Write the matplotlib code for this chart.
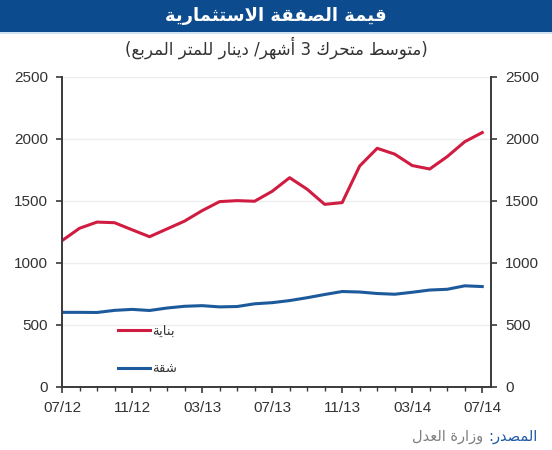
import numpy as np
import matplotlib
matplotlib.use("Agg")
import matplotlib.pyplot as plt
from matplotlib.patches import Rectangle

# Data (3-month moving average, dinar per square metre)
months = ["07/12", "08/12", "09/12", "10/12", "11/12", "12/12", "01/13", "02/13",
          "03/13", "04/13", "05/13", "06/13", "07/13", "08/13", "09/13", "10/13",
          "11/13", "12/13", "01/14", "02/14", "03/14", "04/14", "05/14", "06/14", "07/14"]
building = [1180, 1280, 1330, 1325, 1268, 1212, 1275, 1338, 1422, 1495, 1503, 1498,
            1578, 1688, 1595, 1473, 1487, 1782, 1925, 1878, 1786, 1758, 1858, 1978, 2052]
apartment = [602, 602, 601, 618, 626, 617, 637, 651, 656, 646, 649, 671,
             680, 697, 720, 746, 770, 766, 754, 748, 764, 782, 788, 816, 810]

title = "قيمة الصفقة الاستثمارية"
subtitle = "(متوسط متحرك 3 أشهر/ دينار للمتر المربع)"
label_building = "بناية"
label_apartment = "شقة"
source_head = "المصدر:"
source_body = "وزارة العدل"

# minimal arabic shaping (matplotlib has no RTL / joining support)
FORMS = {  # isolated, final, initial, medial
    'ا': (0xFE8D, 0xFE8E, None, None), 'أ': (0xFE83, 0xFE84, None, None),
    'ب': (0xFE8F, 0xFE90, 0xFE91, 0xFE92), 'ة': (0xFE93, 0xFE94, None, None),
    'ت': (0xFE95, 0xFE96, 0xFE97, 0xFE98), 'ث': (0xFE99, 0xFE9A, 0xFE9B, 0xFE9C),
    'ح': (0xFEA1, 0xFEA2, 0xFEA3, 0xFEA4), 'د': (0xFEA9, 0xFEAA, None, None),
    'ر': (0xFEAD, 0xFEAE, None, None), 'ز': (0xFEAF, 0xFEB0, None, None),
    'س': (0xFEB1, 0xFEB2, 0xFEB3, 0xFEB4), 'ش': (0xFEB5, 0xFEB6, 0xFEB7, 0xFEB8),
    'ص': (0xFEB9, 0xFEBA, 0xFEBB, 0xFEBC), 'ط': (0xFEC1, 0xFEC2, 0xFEC3, 0xFEC4),
    'ع': (0xFEC9, 0xFECA, 0xFECB, 0xFECC), 'ف': (0xFED1, 0xFED2, 0xFED3, 0xFED4),
    'ق': (0xFED5, 0xFED6, 0xFED7, 0xFED8), 'ك': (0xFED9, 0xFEDA, 0xFEDB, 0xFEDC),
    'ل': (0xFEDD, 0xFEDE, 0xFEDF, 0xFEE0), 'م': (0xFEE1, 0xFEE2, 0xFEE3, 0xFEE4),
    'ن': (0xFEE5, 0xFEE6, 0xFEE7, 0xFEE8), 'ه': (0xFEE9, 0xFEEA, 0xFEEB, 0xFEEC),
    'و': (0xFEED, 0xFEEE, None, None), 'ي': (0xFEF1, 0xFEF2, 0xFEF3, 0xFEF4),
}
LAM_ALEF = {'ا': (0xFEFB, 0xFEFC), 'أ': (0xFEF7, 0xFEF8)}


def ar(text):
    chars = list(text)
    out = []
    i = 0
    dual = lambda c: c in FORMS and FORMS[c][2] is not None
    while i < len(chars):
        c = chars[i]
        if c not in FORMS:
            out.append(c)
            i += 1
            continue
        joins_prev = i > 0 and dual(chars[i - 1])
        if c == 'ل' and i + 1 < len(chars) and chars[i + 1] in LAM_ALEF:
            lig = LAM_ALEF[chars[i + 1]]
            out.append(chr(lig[1] if joins_prev else lig[0]))
            i += 2
            continue
        joins_next = dual(c) and i + 1 < len(chars) and chars[i + 1] in FORMS
        iso, fin, ini, med = FORMS[c]
        if joins_prev and joins_next:
            g = med
        elif joins_prev:
            g = fin
        elif joins_next:
            g = ini
        else:
            g = iso
        out.append(chr(g))
        i += 1
    s = ''.join(out)[::-1]
    return s.translate(str.maketrans('()', ')('))


plt.rcParams['font.family'] = ['Liberation Sans', 'DejaVu Sans']
AR = 'DejaVu Sans'

red = '#d01c40'
blue = '#1d5a9c'
axis_col = '#3a3a3a'
text_col = '#333333'

fig = plt.figure(figsize=(5.52, 4.5), dpi=100)

# header bar
fig.patches.append(Rectangle((0, 1 - 32 / 450), 1, 32 / 450, transform=fig.transFigure,
                             facecolor='#0c4b8e', edgecolor='none', zorder=0))
fig.patches.append(Rectangle((0, 1 - 34 / 450), 1, 2 / 450, transform=fig.transFigure,
                             facecolor='#cfe3f3', edgecolor='none', zorder=0))
fig.text(0.5, 1 - 16 / 450, ar(title), ha='center', va='center', color='white',
         fontsize=13, fontweight='bold', family=AR)
fig.text(0.5, 1 - 48 / 450, ar(subtitle), ha='center', va='center', color=text_col,
         fontsize=12, family=AR)

ax = fig.add_axes([62 / 552, 1 - 387 / 450, 429 / 552, 310 / 450])
x = np.arange(len(months))
ax.plot(x, building, color=red, lw=2.2, label=ar(label_building), solid_joinstyle='round')
ax.plot(x, apartment, color=blue, lw=2.2, label=ar(label_apartment), solid_joinstyle='round')

ax.set_xlim(0, 24.5)
ax.set_ylim(0, 2500)
ax.set_yticks(np.arange(0, 2501, 500))
ax.set_xticks(x[::4])
ax.set_xticklabels(months[::4])
ax.set_xticks(x, minor=True)
ax.yaxis.grid(True, color='#eeeeee', lw=1)
ax.set_axisbelow(True)

ax.spines['top'].set_visible(False)
for s in ('left', 'right', 'bottom'):
    ax.spines[s].set_color(axis_col)
    ax.spines[s].set_linewidth(1.4)
ax.tick_params(axis='y', which='major', left=True, right=True, labelleft=True,
               labelright=True, length=4, width=1.2, color=axis_col, pad=6,
               labelsize=11, labelcolor=text_col)
ax.tick_params(axis='x', which='major', length=4, width=1.2, color=axis_col, pad=6,
               labelsize=11, labelcolor=text_col)
ax.tick_params(axis='x', which='minor', length=3, width=1.0, color=axis_col)

leg = ax.legend(loc='upper left', bbox_to_anchor=(0.115, 0.222), frameon=False,
                handlelength=2.4, handletextpad=0.2, labelspacing=1.85, borderpad=0,
                prop={'family': AR, 'size': 9.5})
for t in leg.get_texts():
    t.set_color(text_col)

# source line
head = fig.text(537 / 552, 1 - 437 / 450, ar(source_head), ha='right', va='center',
                color='#1f5aa6', fontsize=10.5, family=AR)
ax.annotate(ar(source_body), xy=(0, 0.5), xycoords=head, xytext=(-3, 0),
            textcoords='offset points', ha='right', va='center', color='#808080',
            fontsize=10.5, family=AR, annotation_clip=False)

fig.savefig('out.png', dpi=100)
